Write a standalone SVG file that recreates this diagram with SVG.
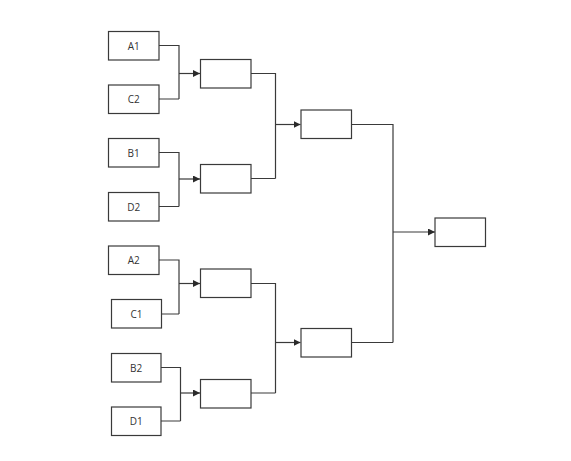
<svg xmlns="http://www.w3.org/2000/svg" width="571" height="461" viewBox="0 0 571 461">
<style>
.box{fill:#fff;stroke:#3a3a3a;stroke-width:1.2}
.lbl{font-family:"Open Sans","Noto Sans",sans-serif;font-size:10px;fill:#333;text-anchor:middle;dominant-baseline:central}
.ln{fill:none;stroke:#3a3a3a;stroke-width:1.2}
</style>
<defs>
<marker id="arr" viewBox="0 0 10 10" refX="10" refY="5" markerWidth="7" markerHeight="7" markerUnits="userSpaceOnUse" orient="auto">
<path d="M0,0 L10,5 L0,10 z" fill="#2a2a2a"/>
</marker>
</defs>
<rect width="571" height="461" fill="#fff"/>
<g id="connectors">
<path class="ln" d="M159,45.5 H179 V99 M159,99 H179"/>
<path class="ln" d="M179,73.5 H200" marker-end="url(#arr)"/>
<path class="ln" d="M159,152.5 H179 V206.5 M159,206.5 H179"/>
<path class="ln" d="M179,179 H200" marker-end="url(#arr)"/>
<path class="ln" d="M159,260 H179 V314 M161.5,314 H179"/>
<path class="ln" d="M179,283.5 H200" marker-end="url(#arr)"/>
<path class="ln" d="M161,367.5 H180.5 V421 M161,421 H180.5"/>
<path class="ln" d="M180.5,393 H200" marker-end="url(#arr)"/>
<path class="ln" d="M251,73.5 H275.5 V178.5 M251,178.5 H275.5"/>
<path class="ln" d="M275.5,124.5 H300.5" marker-end="url(#arr)"/>
<path class="ln" d="M251,283.5 H275.5 V393 M251,393 H275.5"/>
<path class="ln" d="M275.5,342.5 H300.5" marker-end="url(#arr)"/>
<path class="ln" d="M351,124.5 H393 V342.5 M351,342.5 H393"/>
<path class="ln" d="M393,232 H435" marker-end="url(#arr)"/>
</g>
<g id="A1"><rect class="box" x="108.5" y="31.5" width="50.5" height="28.5"/><text class="lbl" x="133.7" y="45.7">A1</text></g>
<g id="C2"><rect class="box" x="108.5" y="85" width="50.5" height="28.5"/><text class="lbl" x="133.7" y="99.2">C2</text></g>
<g id="B1"><rect class="box" x="108.5" y="138.5" width="50.5" height="28.5"/><text class="lbl" x="133.7" y="152.7">B1</text></g>
<g id="D2"><rect class="box" x="108.5" y="192.5" width="50.5" height="28.5"/><text class="lbl" x="133.7" y="206.7">D2</text></g>
<g id="A2"><rect class="box" x="108.5" y="246" width="50.5" height="28.5"/><text class="lbl" x="133.7" y="260.2">A2</text></g>
<g id="C1"><rect class="box" x="111.5" y="299.5" width="50" height="28.5"/><text class="lbl" x="136.5" y="313.7">C1</text></g>
<g id="B2"><rect class="box" x="111.5" y="353.5" width="49.5" height="28.5"/><text class="lbl" x="136.2" y="367.7">B2</text></g>
<g id="D1"><rect class="box" x="111.5" y="407" width="49.5" height="28.5"/><text class="lbl" x="136.2" y="421.2">D1</text></g>
<g id="R2a"><rect class="box" x="200.5" y="59.5" width="50.5" height="28.5"/></g>
<g id="R2b"><rect class="box" x="200.5" y="164.5" width="50.5" height="28.5"/></g>
<g id="R2c"><rect class="box" x="200.5" y="269" width="50.5" height="28.5"/></g>
<g id="R2d"><rect class="box" x="200.5" y="379.5" width="50.5" height="28.5"/></g>
<g id="R3a"><rect class="box" x="301" y="110" width="50.5" height="28.5"/></g>
<g id="R3b"><rect class="box" x="301" y="328.5" width="50.5" height="28.5"/></g>
<g id="Final"><rect class="box" x="435" y="218" width="50.5" height="28.5"/></g>
</svg>
